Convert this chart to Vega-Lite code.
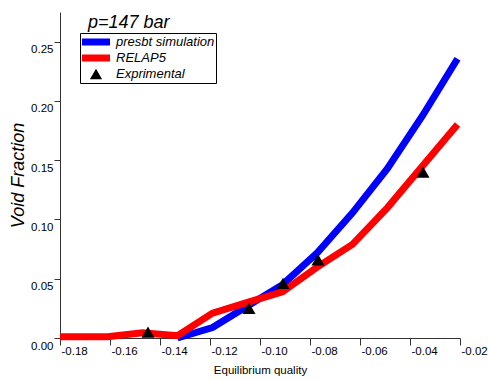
{
  "$schema": "https://vega.github.io/schema/vega-lite/v6.json",
  "width": 400,
  "height": 326,
  "autosize": {"type": "none"},
  "padding": {"left": 60, "top": 12, "right": 28, "bottom": 43},
  "background": "white",
  "config": {"view": {"stroke": null}, "font": "Liberation Sans"},
  "title": {"text": "p=147 bar", "anchor": "start", "frame": "group", "dx": 28, "offset": 0, "dy": 34, "baseline": "alphabetic", "fontSize": 18, "fontStyle": "italic", "fontWeight": "normal", "font": "Liberation Sans", "color": "black"},
  "data": {"values": [
    {"series": "presbt simulation", "x": -0.133, "y": 0.0},
    {"series": "presbt simulation", "x": -0.119, "y": 0.0088},
    {"series": "presbt simulation", "x": -0.105, "y": 0.027},
    {"series": "presbt simulation", "x": -0.091, "y": 0.045},
    {"series": "presbt simulation", "x": -0.077, "y": 0.072},
    {"series": "presbt simulation", "x": -0.063, "y": 0.1056},
    {"series": "presbt simulation", "x": -0.049, "y": 0.143},
    {"series": "presbt simulation", "x": -0.035, "y": 0.1875},
    {"series": "presbt simulation", "x": -0.021, "y": 0.2356},
    {"series": "RELAP5", "x": -0.18, "y": 0.001},
    {"series": "RELAP5", "x": -0.161, "y": 0.001},
    {"series": "RELAP5", "x": -0.147, "y": 0.0045},
    {"series": "RELAP5", "x": -0.133, "y": 0.002},
    {"series": "RELAP5", "x": -0.119, "y": 0.021},
    {"series": "RELAP5", "x": -0.105, "y": 0.030},
    {"series": "RELAP5", "x": -0.091, "y": 0.039},
    {"series": "RELAP5", "x": -0.077, "y": 0.060},
    {"series": "RELAP5", "x": -0.063, "y": 0.079},
    {"series": "RELAP5", "x": -0.049, "y": 0.110},
    {"series": "RELAP5", "x": -0.035, "y": 0.145},
    {"series": "RELAP5", "x": -0.021, "y": 0.180},
    {"series": "Exprimental", "x": -0.1448, "y": 0.005},
    {"series": "Exprimental", "x": -0.1044, "y": 0.025},
    {"series": "Exprimental", "x": -0.0908, "y": 0.046},
    {"series": "Exprimental", "x": -0.0768, "y": 0.066},
    {"series": "Exprimental", "x": -0.0348, "y": 0.140}
  ]},
  "layer": [
    {
      "transform": [{"filter": "datum.series == 'presbt simulation'"}],
      "mark": {"type": "line", "strokeWidth": 7, "strokeJoin": "miter"},
      "encoding": {
        "x": {"field": "x", "type": "quantitative",
          "scale": {"domain": [-0.18, -0.02], "nice": false, "zero": false},
          "axis": {
            "title": "Equilibrium quality",
            "values": [-0.18, -0.17, -0.16, -0.15, -0.14, -0.13, -0.12, -0.11, -0.10, -0.09, -0.08, -0.07, -0.06, -0.05, -0.04, -0.03, -0.02],
            "labelExpr": "round(abs(datum.value)*100)%2==0 ? (datum.value<0 ? '-' : '') + format(abs(datum.value),'.2f') : ''",
            "labelAlign": "left", "labelOffset": 1, "labelPadding": 0, "labelFontSize": 11.5, "labelColor": "black",
            "labelFlush": false, "labelOverlap": false, "labelBound": false,
            "tickSize": {"expr": "round(abs(datum.value)*100)%2==0 ? 7 : 5"},
            "tickColor": "#333", "domainColor": "#333", "grid": false,
            "titleFontSize": 11.5, "titleFontWeight": "normal", "titleColor": "black", "titlePadding": 8
          }},
        "y": {"field": "y", "type": "quantitative",
          "scale": {"domain": [0, 0.275], "nice": false},
          "axis": {
            "title": "Void Fraction",
            "values": [0, 0.025, 0.05, 0.075, 0.1, 0.125, 0.15, 0.175, 0.2, 0.225, 0.25],
            "labelExpr": "round(datum.value*40)%2==0 ? format(datum.value,'.2f') : ''",
            "labelPadding": 1, "labelBaseline": "middle", "labelOffset": 8, "labelFontSize": 11.5, "labelColor": "black",
            "labelFlush": false, "labelOverlap": false, "labelBound": false,
            "tickSize": {"expr": "round(datum.value*40)%2==0 ? 6 : 4"},
            "tickColor": "#333", "domainColor": "#333", "grid": false,
            "titleFontSize": 18, "titleFontStyle": "italic", "titleFontWeight": "normal", "titleColor": "black", "titlePadding": 3
          }},
        "color": {"field": "series", "type": "nominal",
          "scale": {"domain": ["presbt simulation", "RELAP5", "Exprimental"], "range": ["#0000ff", "#ff0000", "#000000"]},
          "legend": {
            "title": null, "orient": "none", "legendX": 20, "legendY": 21,
            "strokeColor": "black", "fillColor": "white", "padding": 1,
            "symbolType": "stroke", "symbolSize": 784, "symbolStrokeWidth": 7,
            "labelFontSize": 13, "labelFontStyle": "italic", "labelFont": "Liberation Sans", "labelColor": "black",
            "labelOffset": 22, "clipHeight": 16, "rowPadding": 0, "labelLimit": 200,
            "labelExpr": "datum.value == 'RELAP5' ? '\u00a0RELAP5' : datum.label",
            "encode": {
              "legend": {"update": {"stroke": {"value": "black"}, "strokeWidth": {"value": 1}, "fill": {"value": "white"}}},
              "symbols": {"update": {
                "x": {"value": 15},
                "shape": {"signal": "datum.value=='Exprimental' ? 'triangle-up' : 'stroke'"},
                "size": {"signal": "datum.value=='Exprimental' ? 150 : 784"},
                "fill": {"signal": "datum.value=='Exprimental' ? 'black' : 'transparent'"},
                "strokeWidth": {"signal": "datum.value=='Exprimental' ? 0 : 7"}
              }}
            }
          }}
      }
    },
    {
      "transform": [{"filter": "datum.series == 'RELAP5'"}],
      "mark": {"type": "line", "strokeWidth": 7, "strokeJoin": "miter"},
      "encoding": {
        "x": {"field": "x", "type": "quantitative"},
        "y": {"field": "y", "type": "quantitative"},
        "color": {"field": "series", "type": "nominal"}
      }
    },
    {
      "transform": [{"filter": "datum.series == 'Exprimental'"}],
      "mark": {"type": "point", "shape": "triangle-up", "filled": true, "size": 170, "color": "black", "opacity": 1},
      "encoding": {
        "x": {"field": "x", "type": "quantitative"},
        "y": {"field": "y", "type": "quantitative"}
      }
    }
  ]
}
